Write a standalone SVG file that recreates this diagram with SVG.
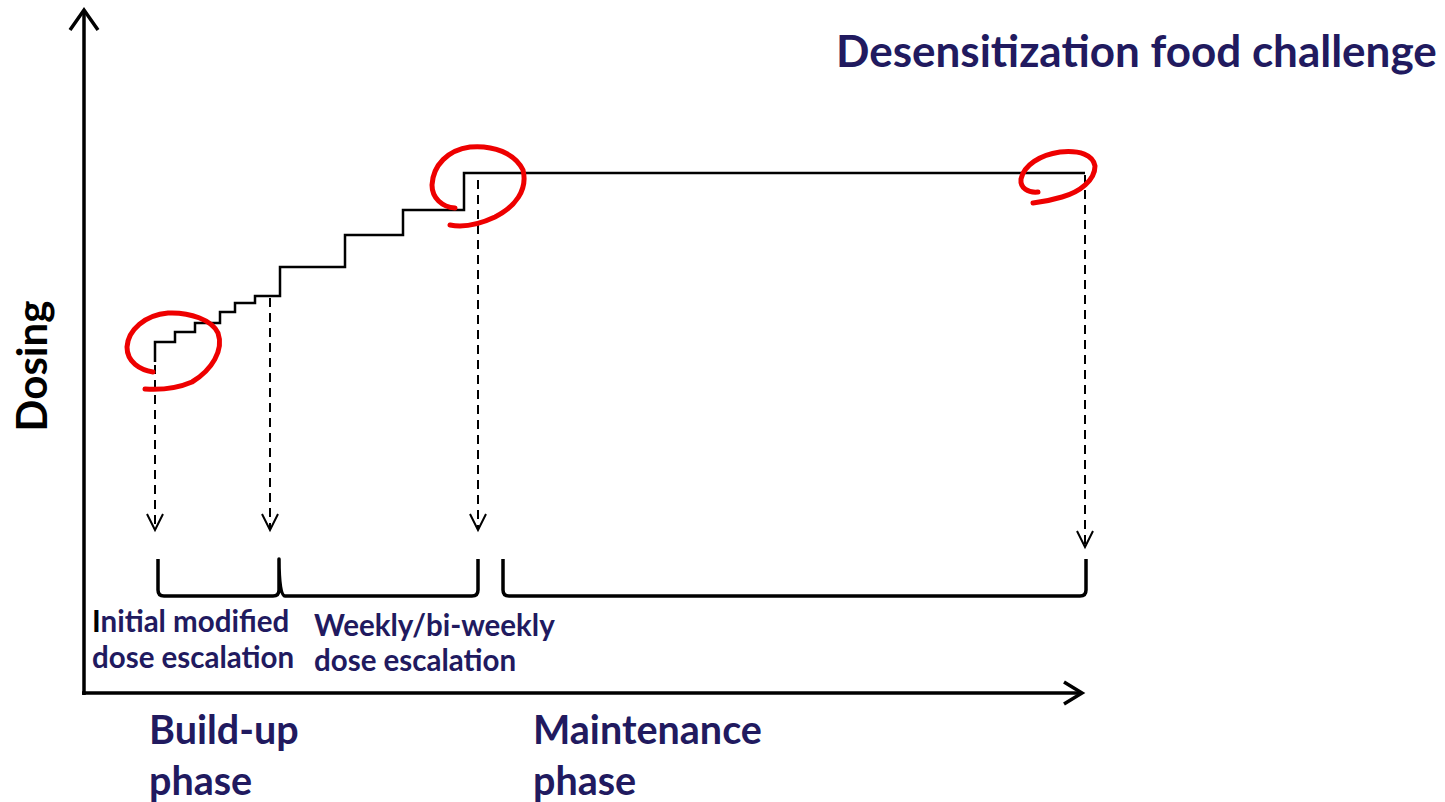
<svg xmlns="http://www.w3.org/2000/svg" width="1445" height="802" viewBox="0 0 1445 802">
<style>
.t{font-family:Lato,"Open Sans","Liberation Sans",sans-serif;font-weight:700;fill:#211a5f}
.ax{stroke:#000;stroke-width:3.5;fill:none}
.ah{stroke:#000;stroke-width:3.5;fill:none;stroke-linecap:butt}
.step{stroke:#000;stroke-width:2.5;fill:none}
.dash{stroke:#000;stroke-width:2;fill:none;stroke-dasharray:9,6}
.arr{stroke:#000;stroke-width:2;fill:none}
.br{stroke:#000;stroke-width:3.5;fill:none;stroke-linejoin:round}
.red{stroke:#ee0000;stroke-width:5;fill:none;stroke-linecap:round;stroke-linejoin:round}
</style>
<rect width="1445" height="802" fill="#fff"/>
<g id="axes">
<path class="ax" d="M84,695 V10"/>
<path class="ah" d="M70,30 L84,10 L98,30"/>
<path class="ax" d="M82,693 H1081"/>
<path class="ah" d="M1064,682 L1082,693 L1064,704"/>
</g>
<g id="dose-curve">
<path class="step" d="M155,362 V342 H175 V332 H195 V323 H220 V312 H235 V303 H255 V296 H280 V267 H345 V235 H403 V210 H464 V173 H1085"/>
</g>
<g id="connectors">
<path class="dash" d="M155,365 V528"/>
<path class="arr" d="M147,514 L155,530 L163,514"/>
<path class="dash" d="M270,298 V528"/>
<path class="arr" d="M262,514 L270,530 L278,514"/>
<path class="dash" d="M478,180 V528"/>
<path class="arr" d="M470,514 L478,530 L486,514"/>
<path class="dash" d="M1085,175 V545"/>
<path class="arr" d="M1077,531 L1085,547 L1093,531"/>
</g>
<g id="brackets">
<path class="br" d="M158,559 V590 Q158,596 164,596 H273 Q279,596 279,590 V559 Q279,596 285,596 H472 Q478,596 478,590 V559"/>
<path class="br" d="M503,559 V590 Q503,596 509,596 H1080 Q1086,596 1086,590 V559"/>
</g>
<g id="highlights">
<path class="red" d="M153,372 C140,370 127,362 127,347 C128,330 145,315 168,313 C190,312 212,320 218,333 C224,350 212,370 192,382 C178,388 160,390 145,389"/>
<path class="red" d="M455,208 C442,207 432,198 432,185 C433,165 448,150 470,147 C493,145 515,153 523,170 C528,190 515,207 495,217 C480,224 465,228 450,225"/>
<path class="red" d="M1038,192 C1028,193 1020,188 1021,179 C1024,165 1040,155 1060,152 C1080,150 1093,155 1095,166 C1095,180 1080,192 1062,197 C1052,200 1042,202 1033,203"/>
</g>
<g id="labels">
<text class="t" x="836" y="67" font-size="44">Desensitization food challenge</text>
<text class="t" x="0" y="0" font-size="42" style="fill:#000" transform="translate(47,366) rotate(-90)" text-anchor="middle">Dosing</text>
<text class="t" x="92" y="632" font-size="29.5"><tspan style="fill:#000">I</tspan>nitial modified</text>
<text class="t" x="92" y="668" font-size="29.5">dose escalation</text>
<text class="t" x="314" y="636" font-size="29.5">Weekly/bi-weekly</text>
<text class="t" x="314" y="671" font-size="29.5">dose escalation</text>
<text class="t" x="149" y="744" font-size="39.5">Build-up</text>
<text class="t" x="149" y="795" font-size="39.5">phase</text>
<text class="t" x="533" y="744" font-size="39.5">Maintenance</text>
<text class="t" x="533" y="795" font-size="39.5">phase</text>
</g>
</svg>
